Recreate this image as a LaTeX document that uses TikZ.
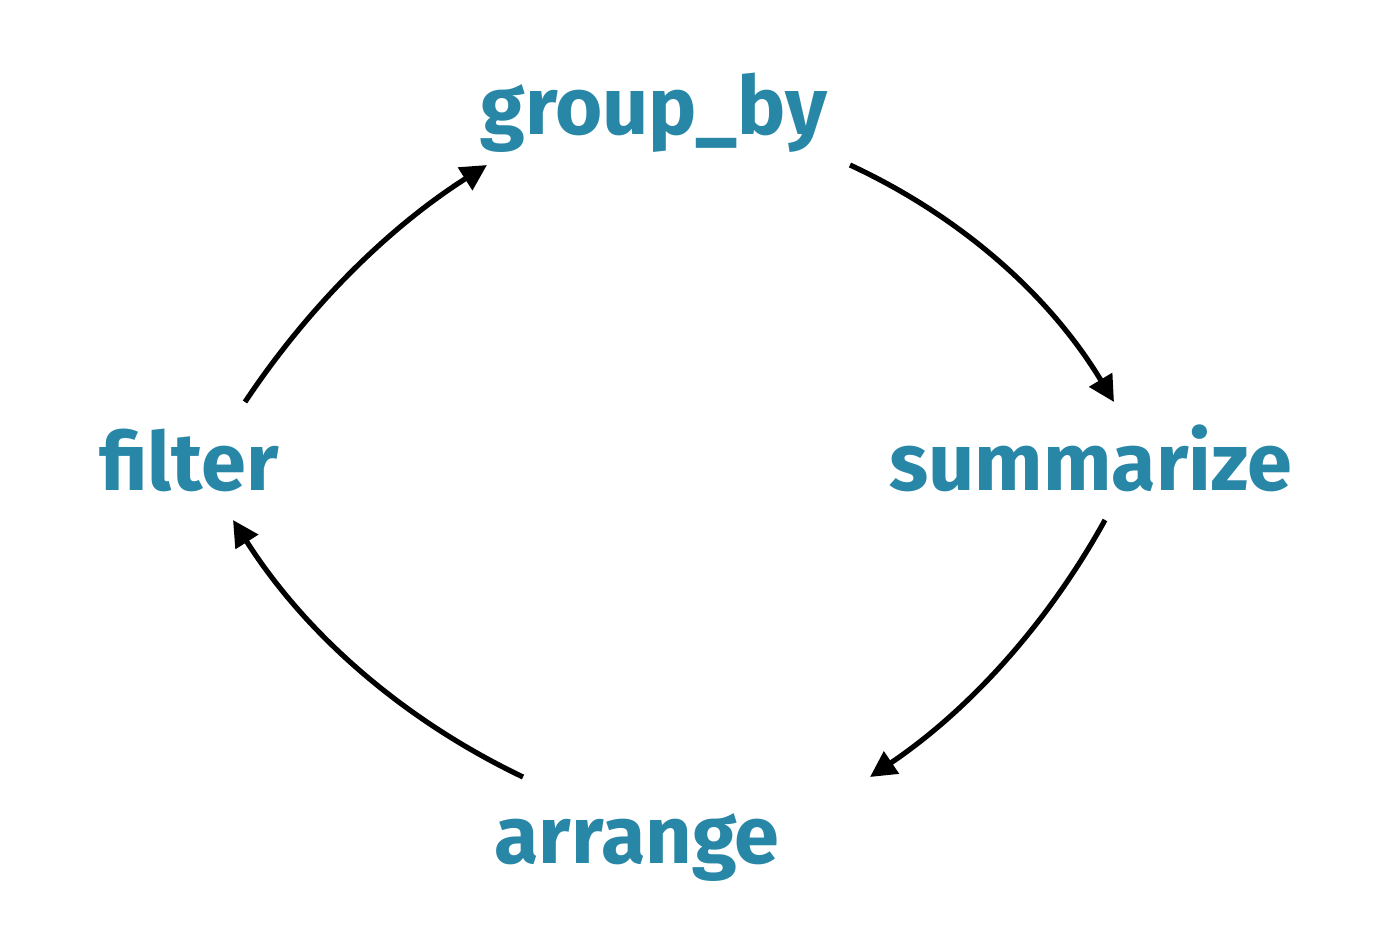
\documentclass[tikz,border=0pt]{standalone}
\usepackage{fontspec}
\setmainfont{Fira Sans}
\usetikzlibrary{arrows.meta}
\definecolor{teal1}{RGB}{40,135,166}
\tikzset{
  lbl/.style={text=teal1, font=\fontsize{40.5}{48}\selectfont\bfseries, inner sep=0pt, anchor=base},
  flow/.style={line width=2.6pt, -{Triangle[length=13pt,width=13pt]}}
}
\begin{document}
\begin{tikzpicture}[x=0.5pt,y=-0.5pt]
\useasboundingbox (0,0) rectangle (1380,926);
\node[lbl] (groupby) at (654,134) {group\_by};
\node[lbl] (filter) at (189,490) {filter};
\node[lbl] (summarize) at (1091,490) {summarize};
\node[lbl] (arrange) at (637,863) {arrange};
\coordinate (f1) at (245,402);
\coordinate (g1) at (487,165);
\coordinate (g2) at (850,165);
\coordinate (s1) at (1114,402);
\coordinate (s2) at (1105,520);
\coordinate (a1) at (870,777);
\coordinate (a2) at (523,777);
\coordinate (f2) at (233,520);
\draw[flow] (f1) .. controls (308.9,305.9) and (389.5,226.9) .. (g1);
\draw[flow] (g2) .. controls (962.1,217.1) and (1050.1,296.1) .. (s1);
\draw[flow] (s2) .. controls (1047.2,624.5) and (968.9,710.1) .. (a1);
\draw[flow] (a2) .. controls (401.8,719) and (305.1,633.3) .. (f2);
\end{tikzpicture}
\end{document}
